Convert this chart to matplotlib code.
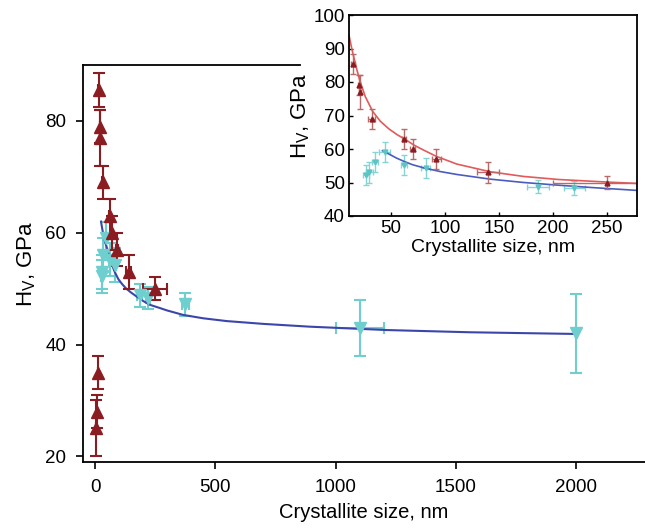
import matplotlib
matplotlib.use("Agg")
import matplotlib.pyplot as plt

plt.rcParams["font.family"] = ["Liberation Sans", "DejaVu Sans"]
plt.rcParams["mathtext.fontset"] = "custom"
plt.rcParams["mathtext.rm"] = "Liberation Sans"

# red triangles (up)
red_size = [15, 20, 21, 32, 62, 70, 92, 140, 250, 11, 7, 4]
red_hv = [85.5, 79, 77, 69, 63, 60, 57, 53, 50, 35, 28, 25]
red_yerr = [3, 3, 5, 3, 3, 3, 3, 3, 2, 3, 3, 5]
red_xerr = [2, 1, 1, 3, 2, 2, 4, 10, 50, 0, 0, 0]

# cyan triangles (down)
cyan_size = [27, 30, 35, 44, 62, 82, 186, 220, 375, 1100, 2000]
cyan_hv = [52.2, 53, 56, 59, 55.2, 54.2, 48.8, 48.3, 47.2, 43, 42]
cyan_yerr = [3, 3, 3, 3, 3, 3, 2, 2, 2, 5, 7]
cyan_xerr = [3, 3, 3, 5, 3, 4, 10, 10, 15, 100, 0]

# fit curves
main_fit_size = [25, 30, 35, 41, 48, 58, 70, 83, 97, 113, 130, 150, 173, 200, 229, 265,
                 300, 367, 450, 548, 700, 894, 1213, 1560, 2000]
main_fit_hv = [62, 60.7, 59.6, 58.5, 57.5, 55.9, 54.3, 52.9, 51.7, 50.8, 50, 49.3, 48.6,
               47.8, 47.1, 46.6, 46.1, 45.3, 44.7, 44.2, 43.7, 43.2, 42.6, 42.2, 41.9]

inset_red_fit_size = [11, 13, 15, 18, 21, 26, 33, 40, 48, 56, 63, 71, 80, 92, 111, 142,
                      173, 205, 252, 280]
inset_red_fit_hv = [94, 90.8, 88, 84, 80.5, 75.7, 71.2, 68.3, 66, 64.2, 62.9, 61.2, 59.7,
                    57.8, 55.5, 53.2, 51.8, 50.9, 50.1, 49.7]

inset_blue_fit_size = [42, 48, 55, 62, 70, 80, 95, 111, 142, 173, 205, 236, 280]
inset_blue_fit_hv = [59.5, 58.5, 57.3, 56.3, 55.3, 54.4, 53.3, 52.4, 51.0, 50.0, 49.2,
                     48.5, 47.6]

dark_red = "#8a1c22"
cyan = "#6fcfcf"
blue = "#3c46aa"

fig = plt.figure(figsize=(6.45, 5.29), dpi=100)
W, H = 645, 529

# main axes
ax = fig.add_axes([83 / W, (H - 462) / H, (W - 83) / W, (462 - 65) / H])
ax.errorbar(cyan_size, cyan_hv, yerr=cyan_yerr, xerr=cyan_xerr, fmt="v", color=cyan,
            ms=8, capsize=4, elinewidth=1.5, capthick=1.5)
ax.plot(main_fit_size, main_fit_hv, color=blue, lw=1.5)
ax.errorbar(red_size, red_hv, yerr=red_yerr, xerr=red_xerr, fmt="^", color=dark_red,
            ms=8, capsize=4, elinewidth=1.5, capthick=1.5)
ax.set_xlim(-50, 2287)
ax.set_ylim(19, 90)
ax.set_xticks([0, 500, 1000, 1500, 2000])
ax.set_yticks([20, 40, 60, 80])
ax.tick_params(direction="out", length=5, width=1.2, labelsize=13.5, pad=7)
ax.spines["right"].set_visible(False)
ax.spines["top"].set_bounds(-50, 852)
for s in ax.spines.values():
    s.set_linewidth(1.3)
ax.set_xlabel("Crystallite size, nm", fontsize=14.5, labelpad=5)
ax.set_ylabel("H$_\\mathrm{V}$, GPa", fontsize=16, labelpad=5)

# inset
ins = fig.add_axes([349 / W, (H - 216) / H, (637 - 349) / W, (216 - 15) / H])
ins.errorbar(cyan_size, cyan_hv, yerr=cyan_yerr, xerr=cyan_xerr, fmt="v", color="#86d4d4",
             mfc="#5cc4c4", mec="#5cc4c4", ms=3.5, capsize=2.5, elinewidth=1, capthick=1)
ins.plot(inset_blue_fit_size, inset_blue_fit_hv, color="#4a5cc0", lw=1.2)
ins.plot(inset_red_fit_size, inset_red_fit_hv, color="#e25a5a", lw=1.2)
ins.errorbar(red_size, red_hv, yerr=red_yerr, xerr=red_xerr, fmt="^", color="#b86a6a",
             mfc=dark_red, mec=dark_red, ms=3.5, capsize=2.5, elinewidth=1, capthick=1)
ins.set_xlim(11, 278)
ins.set_ylim(40, 100)
ins.set_xticks([50, 100, 150, 200, 250])
ins.set_yticks([40, 50, 60, 70, 80, 90, 100])
ins.tick_params(direction="in", length=3, width=1, labelsize=13.5, pad=3)
for s in ins.spines.values():
    s.set_linewidth(1.3)
ins.set_xlabel("Crystallite size, nm", fontsize=14, labelpad=1)
ins.set_ylabel("H$_\\mathrm{V}$, GPa", fontsize=16, labelpad=1)

fig.savefig("out.png", dpi=100)
